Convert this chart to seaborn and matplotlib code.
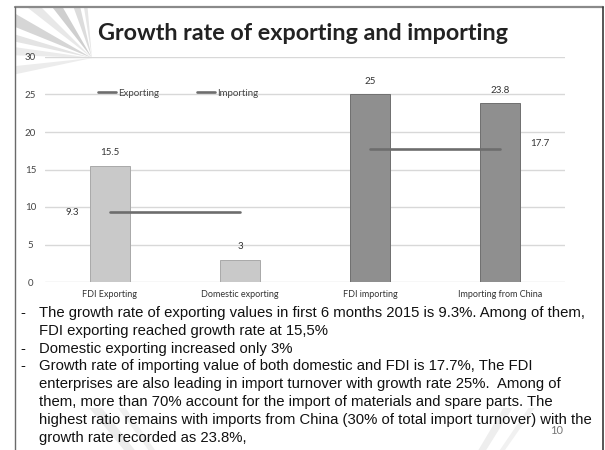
import numpy as np
import pandas as pd
import matplotlib
matplotlib.use("Agg")
import matplotlib.pyplot as plt
import seaborn as sns
from matplotlib.patches import Polygon
from matplotlib.lines import Line2D

# ---------------- data ----------------
categories = ["FDI Exporting", "Domestic exporting", "FDI importing", "Importing from China"]
bar_values = [15.5, 3, 25, 23.8]
bar_colors = ["#c9c9c9", "#c9c9c9", "#8f8f8f", "#8f8f8f"]
bar_edges = ["#a9a9a9", "#a9a9a9", "#6f6f6f", "#6f6f6f"]
series_names = ["Exporting", "Importing"]
exporting_line = [9.3, 9.3, np.nan, np.nan]
importing_line = [np.nan, np.nan, 17.7, 17.7]
y_ticks = [0, 5, 10, 15, 20, 25, 30]
title = "Growth rate of exporting and importing"
notes = [
    ("-", "The growth rate of exporting values in first 6 months 2015 is 9.3%. Among of them,"),
    ("", "FDI exporting reached growth rate at 15,5%"),
    ("-", "Domestic exporting increased only 3%"),
    ("-", "Growth rate of importing value of both domestic and FDI is 17.7%, The FDI"),
    ("", "enterprises are also leading in import turnover with growth rate 25%.  Among of"),
    ("", "them, more than 70% account for the import of materials and spare parts. The"),
    ("", "highest ratio remains with imports from China (30% of total import turnover) with the"),
    ("", "growth rate recorded as 23.8%,"),
]
slide_number = "10"

# ---------------- figure ----------------
sns.set_style("white")
W, H = 605, 450
fig = plt.figure(figsize=(W / 100, H / 100), dpi=100)
fig.patch.set_facecolor("white")


def fx(x):
    return x / W


def fy(y):
    return 1 - y / H


# decorative sunburst rays (slide background, top-left)
cx, cy = 92, 58
for ang0, ang1, col in [(150, 158, "#d6d6d6"), (163, 168, "#e4e4e4"), (172, 178, "#ebebeb"),
                        (120, 128, "#cfcfcf"), (103, 110, "#dcdcdc"), (95, 99, "#e6e6e6"),
                        (186, 192, "#ececec"), (135, 142, "#e8e8e8")]:
    r = 160
    a0, a1 = np.deg2rad(ang0), np.deg2rad(ang1)
    pts = [(cx, cy), (cx + r * np.cos(a0), cy - r * np.sin(a0)), (cx + r * np.cos(a1), cy - r * np.sin(a1))]
    poly = Polygon([(fx(px), fy(py)) for px, py in pts], closed=True, transform=fig.transFigure,
                   facecolor=col, edgecolor="none", zorder=0)
    fig.patches.append(poly)
# faint streaks near the bottom of the slide
bx, by = 330, 700
for ang0, ang1, col in [(128, 129.5, "#ececec"), (125, 126, "#f0f0f0"), (58, 59.3, "#eeeeee"),
                        (55, 55.8, "#f1f1f1")]:
    r = 700
    a0, a1 = np.deg2rad(ang0), np.deg2rad(ang1)
    pts = [(bx, by), (bx + r * np.cos(a0), by - r * np.sin(a0)), (bx + r * np.cos(a1), by - r * np.sin(a1))]
    poly = Polygon([(fx(px), fy(py)) for px, py in pts], closed=True, transform=fig.transFigure,
                   facecolor=col, edgecolor="none", zorder=0)
    fig.patches.append(poly)
# white mask outside slide frame / chart area
fig.patches.append(plt.Rectangle((0, 0), fx(15), 1, transform=fig.transFigure, facecolor="white",
                                 edgecolor="none", zorder=0.5))
fig.patches.append(plt.Rectangle((fx(603), 0), 1, 1, transform=fig.transFigure, facecolor="white",
                                 edgecolor="none", zorder=0.5))
fig.patches.append(plt.Rectangle((0, fy(7)), 1, 1, transform=fig.transFigure, facecolor="white",
                                 edgecolor="none", zorder=0.5))
fig.patches.append(plt.Rectangle((0, fy(408)), 1, (408 - 75) / H, transform=fig.transFigure,
                                 facecolor="white", edgecolor="none", zorder=0.5))

# slide frame
fig.lines.append(Line2D([fx(15), fx(603)], [fy(7), fy(7)], transform=fig.transFigure, color="#8a8a8a", lw=1.6, zorder=1))
fig.lines.append(Line2D([fx(15), fx(15)], [fy(7), 0], transform=fig.transFigure, color="#6a6a6a", lw=1.0, zorder=1))
fig.lines.append(Line2D([fx(603), fx(603)], [fy(7), 0], transform=fig.transFigure, color="#3a3a3a", lw=1.2, zorder=1))

# ---------------- chart ----------------
ax = fig.add_axes([fx(45), fy(282), (565 - 45) / W, (282 - 57) / H])
ax.set_zorder(2)
ax.patch.set_alpha(0)

df = pd.DataFrame({"category": categories, "value": bar_values})
sns.barplot(data=df, x="category", y="value", hue="category",
            palette=dict(zip(categories, bar_colors)), width=40 / 130,
            legend=False, ax=ax, zorder=3)
for patch, ec in zip(ax.patches, bar_edges):
    patch.set_edgecolor(ec)
    patch.set_linewidth(0.7)

rows = []
for name, vals in zip(series_names, [exporting_line, importing_line]):
    for i, v in enumerate(vals):
        if not np.isnan(v):
            rows.append({"pos": i, "value": v, "series": name})
line_df = pd.DataFrame(rows)
line_color = "#6d6d6d"
sns.lineplot(data=line_df, x="pos", y="value", hue="series",
             palette={"Exporting": line_color, "Importing": line_color},
             linewidth=1.9, legend=False, ax=ax, zorder=4)

ax.set_xlim(-0.5, 3.5)
ax.set_ylim(0, 30)
ax.set_yticks(y_ticks)
ax.set_yticklabels([str(t) for t in y_ticks])
ax.set_xticks(range(len(categories)))
ax.set_xticklabels(categories)
ax.grid(axis="y", color="#d8d8d8", linewidth=1.0, zorder=0)
ax.grid(axis="x", visible=False)
for s in ax.spines.values():
    s.set_visible(False)
ax.set_xlabel("")
ax.set_ylabel("")
ax.tick_params(axis="y", length=0, pad=10.5, labelsize=7, labelcolor="#444444")
ax.tick_params(axis="x", length=0, pad=6.0, labelsize=6.5, labelcolor="#333333")
for lab in ax.get_yticklabels():
    lab.set_ha("center")
    lab.set_family("Lato")
for lab in ax.get_xticklabels():
    lab.set_family("Lato")

# bar value labels
for i, v in enumerate(bar_values):
    ax.annotate(f"{v:g}", (i, v), xytext=(0, 6), textcoords="offset points",
                ha="center", va="bottom", fontsize=7, color="#333333", family="Lato")
# line value labels
ax.annotate(f"{exporting_line[0]:g}", (0, exporting_line[0]), xytext=(-27, 0), textcoords="offset points",
            ha="center", va="center", fontsize=7, color="#333333", family="Lato")
ax.annotate(f"{importing_line[3]:g}", (3, importing_line[3]), xytext=(29, 4), textcoords="offset points",
            ha="center", va="center", fontsize=7, color="#333333", family="Lato")

# legend
handles = [Line2D([], [], color=line_color, lw=1.9) for _ in series_names]
leg = ax.legend(handles, series_names, loc="center left",
                bbox_to_anchor=((98 - 45) / 520, 1 - (93 - 57) / 225),
                frameon=False, ncol=2, handlelength=1.9, handletextpad=0.15,
                columnspacing=3.9, borderpad=0, borderaxespad=0,
                prop={"family": "Lato", "size": 7})
for t in leg.get_texts():
    t.set_color("#444444")

# ---------------- title & notes ----------------
fig.text(fx(303), fy(33), title, ha="center", va="center", fontsize=16.8, fontweight="bold",
         family="Lato", color="#222222", zorder=3)

y0, dy = 313, 17.8
for k, (bullet, line) in enumerate(notes):
    y = y0 + k * dy
    if bullet:
        fig.text(fx(23), fy(y), bullet, ha="center", va="center", fontsize=10.7,
                 family=["Liberation Sans Narrow", "Liberation Sans"], color="#111111", zorder=3)
    fig.text(fx(39), fy(y), line, ha="left", va="center", fontsize=10.7,
             family=["Liberation Sans Narrow", "Liberation Sans"], color="#111111", zorder=3)

fig.text(fx(557), fy(431), slide_number, ha="center", va="center", fontsize=8,
         family="Lato", color="#777777", zorder=3)

fig.savefig("out.png", dpi=100)
